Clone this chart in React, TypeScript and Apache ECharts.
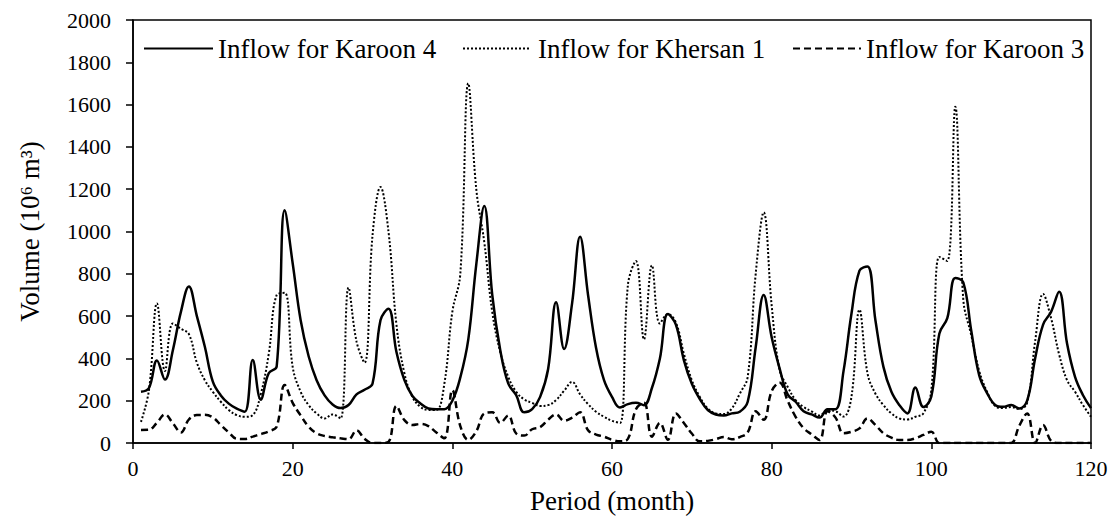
import React, { useEffect, useRef } from "react";
import * as echarts from "echarts";

// Monthly inflow (10^6 m^3), months 1..120
const karoon4: number[] = [
  242, 260, 390, 300, 440, 620, 740, 600, 455, 290,
  225, 186, 162, 148, 392, 205, 330, 362, 1100, 850,
  580, 410, 297, 225, 182, 165, 180, 230, 252, 280,
  580, 635, 430, 297, 222, 187, 163, 159, 160, 200,
  310, 490, 845, 1120, 700, 440, 282, 226, 145, 160,
  218, 350, 665, 445, 660, 975, 700, 450, 297, 218,
  168, 184, 190, 179, 260, 400, 610, 560, 392, 280,
  208, 156, 135, 130, 140, 148, 195, 453, 700, 500,
  352, 230, 195, 150, 135, 120, 160, 160, 340, 612,
  815, 835, 579, 360, 242, 179, 140, 262, 170, 220,
  517, 590, 780, 760, 531, 320, 235, 180, 171, 180,
  163, 200, 400, 560, 620, 715, 470, 313, 226, 165,
];

const khersan1: number[] = [
  100, 250, 660, 340, 565, 540, 515, 380, 297, 242,
  195, 156, 132, 124, 132, 230, 420, 700, 710, 360,
  242, 179, 140, 116, 135, 116, 735, 480, 380, 980,
  1210, 1000, 560, 329, 218, 171, 156, 156, 280, 620,
  800, 1700, 1200, 950, 620, 430, 313, 242, 206, 190,
  175, 179, 203, 247, 289, 230, 184, 148, 124, 105,
  95, 750, 860, 490, 840, 565, 610, 570, 423, 297,
  218, 163, 140, 137, 163, 233, 313, 800, 1090, 650,
  344, 266, 203, 170, 150, 130, 155, 150, 125, 220,
  630, 330, 233, 179, 140, 116, 111, 124, 140, 250,
  880, 860, 1590, 680, 510, 340, 240, 175, 165, 170,
  160, 190, 480, 705, 590, 420, 297, 242, 179, 124,
];

const karoon3: number[] = [
  62, 63, 96, 135, 93, 50, 111, 132, 133, 121,
  85, 50, 20, 19, 30, 42, 55, 77, 274, 190,
  130, 77, 46, 33, 27, 22, 18, 60, 20, 0,
  0, 5, 175, 108, 85, 90, 80, 50, 22, 250,
  80, 15, 55, 140, 145, 95, 130, 45, 35, 65,
  75, 110, 135, 105, 120, 145, 60, 40, 30, 15,
  8, 20, 160, 190, 30, 95, 15, 140, 95, 45,
  8, 10, 18, 28, 18, 28, 50, 150, 110, 245,
  285, 200, 124, 70, 41, 14, 150, 120, 46, 53,
  69, 116, 85, 46, 25, 14, 14, 22, 38, 53,
  0, 0, 0, 0, 0, 0, 0, 0, 0, 0,
  80, 140, 0, 85, 10, 0, 0, 0, 0, 0,
];

const seriesNames = ["Inflow for Karoon 4", "Inflow for Khersan 1", "Inflow for Karoon 3"];
const xTitle = "Period (month)";
const yTitle = "Volume (10\u2076 m\u00B3)";

const FONT = "Liberation Serif";

export default function App() {
  const ref = useRef<HTMLDivElement>(null);

  useEffect(() => {
    if (!ref.current) return;
    const chart = echarts.init(ref.current, undefined, { renderer: "svg" });
    const toPairs = (arr: number[]) => arr.map((v, i) => [i + 1, v]);
    const axisLineStyle = { color: "#000", width: 1.5 };
    const legendText = { fontFamily: FONT, fontSize: 27, color: "#000" };
    const legendItemStyle = { color: "transparent", borderColor: "transparent", borderWidth: 0 };

    chart.setOption({
      animation: false,
      backgroundColor: "#fff",
      textStyle: { fontFamily: FONT },
      grid: {
        left: 133,
        right: 20,
        top: 20,
        bottom: 79,
        show: true,
        borderColor: "#000",
        borderWidth: 1.5,
        backgroundColor: "transparent",
      },
      legend: [
        {
          data: [seriesNames[0]],
          left: 138,
          top: 30,
          itemWidth: 69,
          itemHeight: 14,
          itemStyle: legendItemStyle,
          textStyle: legendText,
        },
        {
          data: [seriesNames[1]],
          left: 457,
          top: 30,
          itemWidth: 66,
          itemHeight: 14,
          itemStyle: legendItemStyle,
          textStyle: { ...legendText, padding: [0, 0, 0, 4] },
        },
        {
          data: [seriesNames[2]],
          left: 787,
          top: 30,
          itemWidth: 68,
          itemHeight: 14,
          itemStyle: legendItemStyle,
          textStyle: legendText,
        },
      ],
      xAxis: {
        type: "value",
        min: 0,
        max: 120,
        interval: 20,
        name: xTitle,
        nameLocation: "middle",
        nameGap: 44,
        nameTextStyle: { fontFamily: FONT, fontSize: 27, color: "#000" },
        axisLine: { show: true, lineStyle: axisLineStyle },
        axisTick: { show: true, inside: false, length: 6, lineStyle: axisLineStyle },
        splitLine: { show: false },
        axisLabel: {
          fontFamily: FONT,
          fontSize: 22,
          color: "#000",
          margin: 14,
          formatter: (v: number) => String(v),
        },
      },
      yAxis: {
        type: "value",
        min: 0,
        max: 2000,
        interval: 200,
        name: yTitle,
        nameLocation: "middle",
        nameGap: 90,
        nameRotate: 90,
        nameTextStyle: { fontFamily: FONT, fontSize: 27, color: "#000" },
        axisLine: { show: true, lineStyle: axisLineStyle },
        axisTick: { show: true, inside: false, length: 7, lineStyle: axisLineStyle },
        splitLine: { show: false },
        axisLabel: {
          fontFamily: FONT,
          fontSize: 22,
          color: "#000",
          margin: 22,
          formatter: (v: number) => String(v),
        },
      },
      series: [
        {
          name: seriesNames[0],
          type: "line",
          data: toPairs(karoon4),
          symbol: "none",
          smooth: 0.4,
          itemStyle: { color: "#000" },
          lineStyle: { color: "#000", width: 2.5, type: "solid" },
          z: 3,
        },
        {
          name: seriesNames[1],
          type: "line",
          data: toPairs(khersan1),
          symbol: "none",
          smooth: 0.4,
          itemStyle: { color: "#000" },
          lineStyle: { color: "#000", width: 2, type: [2, 2] },
          z: 2,
        },
        {
          name: seriesNames[2],
          type: "line",
          data: toPairs(karoon3),
          symbol: "none",
          smooth: 0.4,
          itemStyle: { color: "#000" },
          lineStyle: { color: "#000", width: 2.5, type: [7, 4] },
          z: 2,
        },
      ],
    });

    return () => chart.dispose();
  }, []);

  return (
    <div
      ref={ref}
      style={{ position: "fixed", left: 0, top: 0, width: 1111, height: 522, background: "#fff" }}
    />
  );
}
